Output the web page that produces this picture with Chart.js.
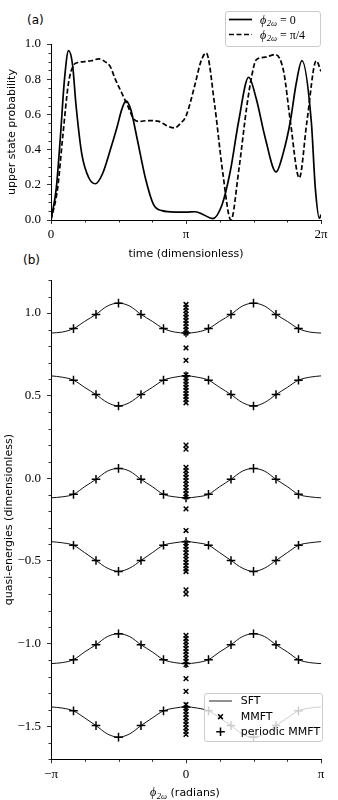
<!DOCTYPE html>
<html lang="en">
<head>
<meta charset="UTF-8">
<title>Upper state probability and quasi-energies</title>
<script src="https://cdn.jsdelivr.net/npm/chart.js@4"></script>
<style>
    body { margin: 0; background: #fff; width: 338px; height: 800px; position: relative; overflow: hidden; }
    canvas { position: absolute; left: 0; }
    #chartA { top: 0; }
    #chartB { top: 262px; }
    .panel { position: absolute; font: 12px "DejaVu Sans", sans-serif; line-height: 14px; color: #000; }
</style>
</head>
<body>
<div class="panel" style="left:27px; top:13px;">(a)</div>
<div class="panel" style="left:23px; top:253px;">(b)</div>
<canvas id="chartA" width="338" height="262"></canvas>
<canvas id="chartB" width="338" height="538"></canvas>
<script>
// ---- panel (a): time in units of pi ----
const tSolid = [0, 0.039, 0.069, 0.100, 0.130, 0.160, 0.185, 0.229, 0.280, 0.328, 0.380, 0.440, 0.490, 0.525, 0.555,
    0.590, 0.637, 0.699, 0.760, 0.822, 0.920, 1.000, 1.069, 1.130, 1.197, 1.267, 1.328, 1.390, 1.464, 1.520,
    1.587, 1.667, 1.720, 1.773, 1.815, 1.859, 1.928, 1.958, 1.988, 2.000];
const pSolid = [0, 0.18, 0.466, 0.80, 0.962, 0.88, 0.655, 0.371, 0.24, 0.206, 0.26, 0.40, 0.53, 0.63, 0.677,
    0.63, 0.466, 0.239, 0.087, 0.053, 0.045, 0.045, 0.047, 0.030, 0.008, 0.087, 0.277, 0.561, 0.811, 0.69,
    0.466, 0.273, 0.38, 0.561, 0.77, 0.905, 0.561, 0.18, 0.01, 0.03];
const tDashed = [0, 0.049, 0.086, 0.130, 0.168, 0.200, 0.250, 0.300, 0.353, 0.400, 0.440, 0.476, 0.513, 0.570,
    0.612, 0.650, 0.720, 0.800, 0.860, 0.916, 0.960, 1.000, 1.070, 1.110, 1.150, 1.212, 1.271, 1.333, 1.390,
    1.452, 1.490, 1.520, 1.587, 1.661, 1.723, 1.773, 1.839, 1.896, 1.965, 2.000];
const pDashed = [0, 0.18, 0.466, 0.78, 0.88, 0.895, 0.90, 0.905, 0.915, 0.90, 0.87, 0.80, 0.74, 0.646,
    0.575, 0.56, 0.565, 0.56, 0.535, 0.523, 0.55, 0.59, 0.78, 0.90, 0.949, 0.655, 0.277, 0.0, 0.277,
    0.655, 0.83, 0.91, 0.925, 0.94, 0.845, 0.561, 0.239, 0.561, 0.905, 0.845];

const xTicksA = [0, 1, 2];            // units of pi
const xTickLabelsA = ['0', 'π', '2π'];

// ---- panel (b): phi_2w ----
const phiSFT = [-12, -11, -10, -9, -8, -7, -6, -5, -4, -3, -2, -1, 0, 1, 2, 3, 4, 5, 6, 7, 8, 9, 10, 11, 12]; // units of pi/12
const sft1 = [0.879, 0.885, 0.906, 0.95, 0.992, 1.042, 1.060, 1.042, 0.992, 0.95, 0.906, 0.885, 0.879,
    0.885, 0.906, 0.95, 0.992, 1.042, 1.060, 1.042, 0.992, 0.95, 0.906, 0.885, 0.879];
const sft2 = [0.620, 0.612, 0.594, 0.55, 0.507, 0.459, 0.438, 0.459, 0.507, 0.55, 0.594, 0.612, 0.620,
    0.612, 0.594, 0.55, 0.507, 0.459, 0.438, 0.459, 0.507, 0.55, 0.594, 0.612, 0.620];
const sft3 = [-0.118, -0.112, -0.097, -0.05, -0.006, 0.043, 0.060, 0.043, -0.006, -0.05, -0.097, -0.112, -0.118,
    -0.112, -0.097, -0.05, -0.006, 0.043, 0.060, 0.043, -0.006, -0.05, -0.097, -0.112, -0.118];
const sft4 = [-0.383, -0.390, -0.405, -0.45, -0.497, -0.543, -0.563, -0.543, -0.497, -0.45, -0.405, -0.390, -0.383,
    -0.390, -0.405, -0.45, -0.497, -0.543, -0.563, -0.543, -0.497, -0.45, -0.405, -0.390, -0.383];
const sft5 = [-1.121, -1.115, -1.097, -1.05, -1.007, -0.958, -0.940, -0.958, -1.007, -1.05, -1.097, -1.115, -1.121,
    -1.115, -1.097, -1.05, -1.007, -0.958, -0.940, -0.958, -1.007, -1.05, -1.097, -1.115, -1.121];
const sft6 = [-1.383, -1.390, -1.407, -1.45, -1.496, -1.546, -1.566, -1.546, -1.496, -1.45, -1.407, -1.390, -1.383,
    -1.390, -1.407, -1.45, -1.496, -1.546, -1.566, -1.546, -1.496, -1.45, -1.407, -1.390, -1.383];

const phiPeriodic = [-5, -4, -3, -2, -1, 0, 1, 2, 3, 4, 5]; // units of pi/6
const per1 = [0.906, 0.992, 1.060, 0.992, 0.906, 0.879, 0.906, 0.992, 1.060, 0.992, 0.906];
const per2 = [0.594, 0.507, 0.438, 0.507, 0.594, 0.620, 0.594, 0.507, 0.438, 0.507, 0.594];
const per3 = [-0.097, -0.006, 0.060, -0.006, -0.097, -0.118, -0.097, -0.006, 0.060, -0.006, -0.097];
const per4 = [-0.405, -0.497, -0.563, -0.497, -0.405, -0.383, -0.405, -0.497, -0.563, -0.497, -0.405];
const per5 = [-1.097, -1.007, -0.940, -1.007, -1.097, -1.121, -1.097, -1.007, -0.940, -1.007, -1.097];
const per6 = [-1.407, -1.496, -1.566, -1.496, -1.407, -1.383, -1.407, -1.496, -1.566, -1.496, -1.407];

// MMFT quasi-energies, all at phi_2w = 0
const mmftE = [1.052, 1.033, 1.014, 0.994, 0.975, 0.956, 0.937, 0.917, 0.898, 0.879,
    0.789, 0.714,
    0.626, 0.607, 0.588, 0.570, 0.551, 0.532, 0.513, 0.495, 0.476, 0.457,
    0.201, 0.177,
    0.066, 0.046, 0.026, 0.006, -0.014, -0.034, -0.054, -0.074, -0.094, -0.113,
    -0.185, -0.316,
    -0.391, -0.411, -0.430, -0.450, -0.470, -0.489, -0.509, -0.528, -0.548, -0.564,
    -0.675, -0.700,
    -0.950, -0.970, -0.989, -1.009, -1.029, -1.048, -1.068, -1.088, -1.107, -1.127,
    -1.212, -1.289,
    -1.369, -1.389, -1.409, -1.429, -1.449, -1.469, -1.489, -1.510, -1.530, -1.550];

const xTicksB = [-1, 0, 1];           // units of pi
const xTickLabelsB = ['−π', '0', 'π'];
const yTicksB = [-1.5, -1, -0.5, 0, 0.5, 1];
const yTickLabelsB = ['−1.5', '−1.0', '−0.5', '0.0', '0.5', '1.0'];

const PI = Math.PI;
const SERIF = '"Liberation Serif", "DejaVu Serif", serif';
const SANS = '"DejaVu Sans", sans-serif';

// short minor tick marks on the left and bottom spines
const minorTicks = {
    id: 'minorTicks',
    afterDraw(chart, args, opts) {
        const ctx = chart.ctx;
        const {left, bottom} = chart.chartArea;
        ctx.save();
        ctx.strokeStyle = '#000';
        ctx.lineWidth = 0.8;
        ctx.beginPath();
        opts.x.forEach(v => {
            const px = Math.round(chart.scales.x.getPixelForValue(v)) + 0.5;
            ctx.moveTo(px, bottom);
            ctx.lineTo(px, bottom + 2.5);
        });
        opts.y.forEach(v => {
            const py = Math.round(chart.scales.y.getPixelForValue(v)) + 0.5;
            ctx.moveTo(left, py);
            ctx.lineTo(left - 2.5, py);
        });
        ctx.stroke();
        ctx.restore();
    }
};

// phi_2w written like the math text, returns end x
function drawPhi(ctx, x, y, rest) {
    ctx.textBaseline = 'alphabetic';
    ctx.textAlign = 'left';
    const base = y + 4;
    ctx.font = 'italic 12px ' + SERIF;
    ctx.fillText('ϕ', x, base);
    x += ctx.measureText('ϕ').width + 0.5;
    ctx.font = 'italic 8.5px ' + SERIF;
    ctx.fillText('2ω', x, base + 2.5);
    x += ctx.measureText('2ω').width;
    if (rest) {
        ctx.font = '12px ' + SERIF;
        ctx.fillText(rest, x, base);
        x += ctx.measureText(rest).width;
    }
    return x;
}

function phiWidth(ctx) {
    ctx.font = 'italic 12px ' + SERIF;
    let w = ctx.measureText('ϕ').width + 0.5;
    ctx.font = 'italic 8.5px ' + SERIF;
    return w + ctx.measureText('2ω').width;
}

function legendBox(ctx, x0, y0, x1, y1) {
    ctx.beginPath();
    ctx.roundRect(x0, y0, x1 - x0, y1 - y0, 2.5);
    ctx.fillStyle = 'rgba(255,255,255,0.8)';
    ctx.fill();
    ctx.strokeStyle = '#cccccc';
    ctx.lineWidth = 1;
    ctx.stroke();
}

const legendA = {
    id: 'legendA',
    afterDraw(chart) {
        const ctx = chart.ctx;
        ctx.save();
        legendBox(ctx, 225.5, 11.5, 320.5, 46.5);
        ctx.strokeStyle = '#000';
        ctx.lineWidth = 1.7;
        ctx.beginPath();
        ctx.moveTo(229, 19.5); ctx.lineTo(252, 19.5);
        ctx.stroke();
        ctx.setLineDash([5, 2.5]);
        ctx.beginPath();
        ctx.moveTo(229, 34.5); ctx.lineTo(252, 34.5);
        ctx.stroke();
        ctx.setLineDash([]);
        ctx.fillStyle = '#000';
        drawPhi(ctx, 260, 19.5, ' = 0');
        drawPhi(ctx, 260, 34.5, ' = π/4');
        ctx.restore();
    }
};

const legendB = {
    id: 'legendB',
    afterDraw(chart) {
        const ctx = chart.ctx;
        ctx.save();
        legendBox(ctx, 204.5, 431.5, 322.5, 479.5);
        ctx.strokeStyle = '#222';
        ctx.lineWidth = 1;
        ctx.beginPath();
        ctx.moveTo(209, 439); ctx.lineTo(232, 439);
        ctx.stroke();
        ctx.lineWidth = 1.5;
        ctx.strokeStyle = '#000';
        ctx.beginPath();
        const r = 2.4;
        ctx.moveTo(220.5 - r, 454.7 - r); ctx.lineTo(220.5 + r, 454.7 + r);
        ctx.moveTo(220.5 - r, 454.7 + r); ctx.lineTo(220.5 + r, 454.7 - r);
        ctx.moveTo(216.2, 469.7); ctx.lineTo(224.8, 469.7);
        ctx.moveTo(220.5, 465.4); ctx.lineTo(220.5, 474);
        ctx.stroke();
        ctx.fillStyle = '#000';
        ctx.font = '11px ' + SANS;
        ctx.textBaseline = 'middle';
        ctx.fillText('SFT', 240.7, 438.7);
        ctx.fillText('MMFT', 240.7, 454.7);
        ctx.fillText('periodic MMFT', 240.7, 469.7);
        ctx.restore();
    }
};

// x axis title of panel (b): phi_2w (radians)
const titleB = {
    id: 'titleB',
    afterDraw(chart) {
        const ctx = chart.ctx;
        ctx.save();
        ctx.fillStyle = '#000';
        const w1 = phiWidth(ctx);
        ctx.font = '11px ' + SANS;
        const w2 = ctx.measureText(' (radians)').width;
        let x = 185 - (w1 + w2) / 2;
        x = drawPhi(ctx, x, 530, '');
        ctx.font = '11px ' + SANS;
        ctx.textBaseline = 'alphabetic';
        ctx.fillText(' (radians)', x, 534);
        ctx.restore();
    }
};

function tickFont() {
    return {family: SERIF, size: 13};
}

// ---------- chart (a) ----------
const minorXA = [1, 2, 3, 5, 6, 7].map(k => k * PI / 4);
const minorYA = [];
for (let k = 1; k < 20; k++) if (k % 4 !== 0) minorYA.push(k * 0.05);

new Chart(document.getElementById('chartA'), {
    type: 'line',
    data: {
        datasets: [
            {
                label: 'phi = 0',
                data: tSolid.map((t, i) => ({x: t * PI, y: pSolid[i]})),
                borderColor: '#000',
                borderWidth: 1.7,
                pointRadius: 0,
                cubicInterpolationMode: 'monotone',
                fill: false
            },
            {
                label: 'phi = pi/4',
                data: tDashed.map((t, i) => ({x: t * PI, y: pDashed[i]})),
                borderColor: '#000',
                borderWidth: 1.7,
                borderDash: [5, 2.5],
                pointRadius: 0,
                cubicInterpolationMode: 'monotone',
                fill: false
            }
        ]
    },
    options: {
        responsive: false,
        animation: false,
        devicePixelRatio: 1,
        events: [],
        layout: {padding: {left: 0, right: 17, top: 44, bottom: 0}},
        plugins: {
            legend: {display: false},
            tooltip: {enabled: false},
            minorTicks: {x: minorXA, y: minorYA}
        },
        scales: {
            x: {
                type: 'linear',
                min: 0,
                max: 2 * PI,
                afterBuildTicks: s => { s.ticks = xTicksA.map(v => ({value: v * PI})); },
                afterFit: s => { s.height = 42; },
                ticks: {callback: (v, i) => xTickLabelsA[i], font: tickFont(), color: '#000', padding: 3, maxRotation: 0, autoSkip: false},
                grid: {drawOnChartArea: false, tickLength: 4, tickColor: '#000', tickWidth: 0.8},
                border: {color: '#000', width: 1},
                title: {display: true, text: 'time (dimensionless)', font: {family: SANS, size: 11}, color: '#000', padding: {top: 0, bottom: 1.4}}
            },
            y: {
                min: 0,
                max: 1,
                afterFit: s => { s.width = 51; },
                ticks: {stepSize: 0.2, callback: v => v.toFixed(1), font: tickFont(), color: '#000', padding: 6},
                grid: {drawOnChartArea: false, tickLength: 4, tickColor: '#000', tickWidth: 0.8},
                border: {color: '#000', width: 1},
                title: {display: true, text: 'upper state probability', font: {family: SANS, size: 11}, color: '#000', padding: {top: 6, bottom: 0}}
            }
        }
    },
    plugins: [minorTicks, legendA]
});

// ---------- chart (b) ----------
const minorXB = [-3, -2, -1, 1, 2, 3].map(k => k * PI / 4);
const minorYB = [];
for (let k = -17; k <= 12; k++) if (k % 5 !== 0) minorYB.push(k / 10);

const sftCurves = [sft1, sft2, sft3, sft4, sft5, sft6];
const perCurves = [per1, per2, per3, per4, per5, per6];

const datasetsB = [];
sftCurves.forEach((c, j) => {
    datasetsB.push({
        label: 'SFT ' + (j + 1),
        data: phiSFT.map((p, i) => ({x: p * PI / 12, y: c[i]})),
        borderColor: '#111',
        borderWidth: 1,
        pointRadius: 0,
        cubicInterpolationMode: 'monotone',
        fill: false,
        order: 2
    });
});
datasetsB.push({
    label: 'MMFT',
    data: mmftE.map(e => ({x: 0, y: e})),
    showLine: false,
    pointStyle: 'crossRot',
    pointRadius: 3.3,
    pointBorderWidth: 1.5,
    pointBorderColor: '#000',
    order: 1
});
perCurves.forEach((c, j) => {
    datasetsB.push({
        label: 'periodic MMFT ' + (j + 1),
        data: phiPeriodic.map((p, i) => ({x: p * PI / 6, y: c[i]})),
        showLine: false,
        pointStyle: 'cross',
        pointRadius: 4.3,
        pointBorderWidth: 1.5,
        pointBorderColor: '#000',
        order: 0
    });
});

new Chart(document.getElementById('chartB'), {
    type: 'line',
    data: {datasets: datasetsB},
    options: {
        responsive: false,
        animation: false,
        devicePixelRatio: 1,
        events: [],
        layout: {padding: {left: 0, right: 17, top: 18, bottom: 0}},
        plugins: {
            legend: {display: false},
            tooltip: {enabled: false},
            minorTicks: {x: minorXB, y: minorYB}
        },
        scales: {
            x: {
                type: 'linear',
                min: -PI,
                max: PI,
                afterBuildTicks: s => { s.ticks = xTicksB.map(v => ({value: v * PI})); },
                afterFit: s => { s.height = 40.7; },
                ticks: {callback: (v, i) => xTickLabelsB[i], font: tickFont(), color: '#000', padding: 3, maxRotation: 0, autoSkip: false},
                grid: {drawOnChartArea: false, tickLength: 4, tickColor: '#000', tickWidth: 0.8},
                border: {color: '#000', width: 1}
            },
            y: {
                min: -1.7,
                max: 1.2,
                afterBuildTicks: s => { s.ticks = yTicksB.map(v => ({value: v})); },
                afterFit: s => { s.width = 51; },
                ticks: {callback: (v, i) => yTickLabelsB[i], font: tickFont(), color: '#000', padding: 6, autoSkip: false},
                grid: {drawOnChartArea: false, tickLength: 4, tickColor: '#000', tickWidth: 0.8},
                border: {color: '#000', width: 1},
                title: {display: true, text: 'quasi-energies (dimensionless)', font: {family: SANS, size: 11}, color: '#000', padding: {top: 3, bottom: 0}}
            }
        }
    },
    plugins: [minorTicks, legendB, titleB]
});
</script>
</body>
</html>
